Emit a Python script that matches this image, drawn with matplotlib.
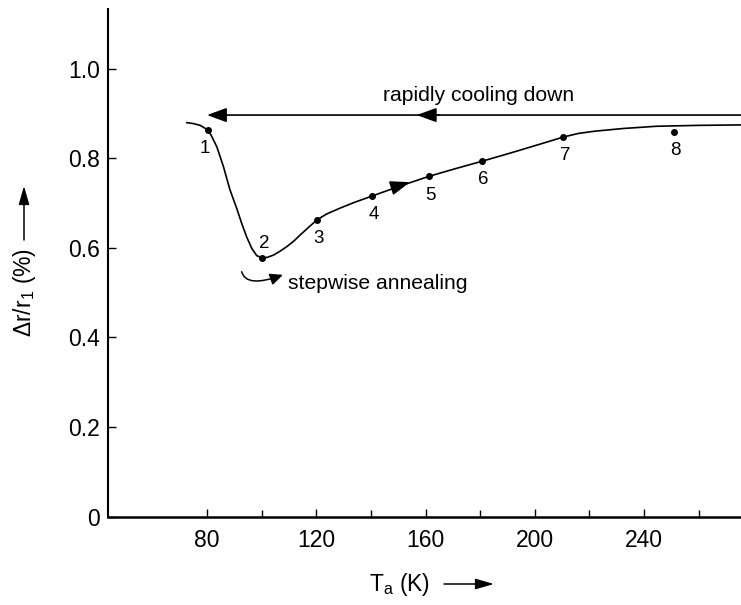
import matplotlib
matplotlib.use("Agg")
import matplotlib.pyplot as plt
from matplotlib.patches import FancyArrowPatch
from matplotlib.ticker import FixedLocator

plt.rcParams['font.family'] = ['Liberation Sans', 'DejaVu Sans']
plt.rcParams['mathtext.fontset'] = 'custom'
plt.rcParams['mathtext.rm'] = 'Liberation Sans'

# resistance change curve
curve_T = [72.6, 75.0, 77.5, 80.2, 81.5, 83.6, 86.0, 88.4, 90.9, 92.7, 94.5, 96.4,
           98.2, 100.1, 102.0, 104.3, 106.8, 109.2, 111.7, 114.1, 117.7, 120.3,
           123.8, 128.7, 134.0, 140.4, 150.0, 161.2, 170.8, 180.8, 191.0, 201.9,
           210.5, 216.0, 222.0, 232.4, 244.6, 260.0, 276.0]
curve_r = [0.880, 0.878, 0.874, 0.864, 0.852, 0.826, 0.782, 0.730, 0.688, 0.655,
           0.625, 0.599, 0.583, 0.578, 0.579, 0.584, 0.593, 0.603, 0.615, 0.629,
           0.649, 0.663, 0.676, 0.689, 0.702, 0.716, 0.737, 0.760, 0.777, 0.794,
           0.812, 0.832, 0.848, 0.856, 0.861, 0.867, 0.872, 0.874, 0.875]

# annealing steps 1..8
step_T = [80.2, 100.1, 120.3, 140.4, 161.2, 180.8, 210.5, 250.9]
step_r = [0.864, 0.578, 0.663, 0.716, 0.760, 0.794, 0.848, 0.860]
step_labels = ['1', '2', '3', '4', '5', '6', '7', '8']

x_ticks = [80, 120, 160, 200, 240]
x_minor = [100, 140, 180, 220, 260]
y_ticks = [0, 0.2, 0.4, 0.6, 0.8, 1.0]
y_tick_labels = ['0', '0.2', '0.4', '0.6', '0.8', '1.0']

cooling_r = 0.897

fig = plt.figure(figsize=(7.41, 6.05), dpi=100)
ax = fig.add_axes([108 / 741, 88.5 / 605, 1 - 108 / 741, (605 - 88.5 - 9) / 605])

ax.plot(curve_T, curve_r, color='k', lw=1.2)
ax.plot(step_T, step_r, 'o', color='k', ms=4)

# label offsets (points); label 2 sits above its point
for t, r, lab in zip(step_T, step_r, step_labels):
    dx, dy = (2, 10) if lab == '2' else (1, -13.5)
    if lab == '1':
        dx = -2
    ax.annotate(lab, (t, r), xytext=(dx, dy), textcoords='offset points',
                ha='center', va='center', fontsize=13.5)

head = '-|>,head_length=0.6,head_width=0.22'
# rapidly cooling down arrow
ax.annotate('', xy=(80, cooling_r), xytext=(290, cooling_r), annotation_clip=False,
            arrowprops=dict(arrowstyle=head, color='k', lw=1.2, mutation_scale=20,
                            shrinkA=0, shrinkB=0))
ax.annotate('', xy=(156.8, cooling_r), xytext=(165, cooling_r),
            arrowprops=dict(arrowstyle=head, color='k', lw=1.2, mutation_scale=20,
                            shrinkA=0, shrinkB=0))
ax.text(144.6, 0.929, 'rapidly cooling down', fontsize=15.2, ha='left', va='baseline')

# arrow along the annealing branch
ax.annotate('', xy=(154.3, 0.747), xytext=(148, 0.735),
            arrowprops=dict(arrowstyle=head, color='k', lw=1.2, mutation_scale=20,
                            shrinkA=0, shrinkB=0))

# stepwise annealing curved arrow
ax.annotate('', xy=(107.8, 0.540), xytext=(92.7, 0.547),
            arrowprops=dict(arrowstyle='-|>,head_length=0.7,head_width=0.32', color='k',
                            lw=1.1, mutation_scale=11, shrinkA=0, shrinkB=0,
                            connectionstyle='angle3,angleA=-75,angleB=20'))
ax.text(109.8, 0.508, 'stepwise annealing', fontsize=15.2, ha='left', va='baseline')

ax.set_xlim(43.75, 275.5)
ax.set_ylim(0, 1.134)
ax.spines['top'].set_visible(False)
ax.spines['right'].set_visible(False)
ax.spines['left'].set_linewidth(1.5)
ax.spines['bottom'].set_linewidth(1.8)

ax.xaxis.set_major_locator(FixedLocator(x_ticks))
ax.xaxis.set_minor_locator(FixedLocator(x_minor))
ax.set_yticks(y_ticks)
ax.set_yticklabels(y_tick_labels)
ax.tick_params(axis='both', which='major', direction='in', length=6, width=1.0,
               labelsize=16.5)
ax.tick_params(axis='x', which='major', pad=9)
ax.tick_params(axis='y', which='major', pad=6)
ax.tick_params(axis='x', which='minor', direction='in', length=5, width=1.0)

# axis titles with arrows, placed in figure pixels
fig.text(400 / 741, 1 - 584 / 605, r'T$_\mathregular{a}$ (K)', fontsize=16.5,
         ha='center', va='center')
fig.add_artist(FancyArrowPatch(
    (444 / 741, 1 - 584 / 605), (494 / 741, 1 - 584 / 605), transform=fig.transFigure,
    arrowstyle='-|>,head_length=0.7,head_width=0.2', mutation_scale=16, color='k', lw=1.1,
    shrinkA=0, shrinkB=0))

fig.text(25 / 741, 1 - 292 / 605, r'$\Delta$r/r$_\mathregular{1}$ (%)', fontsize=16.5,
         rotation=90, ha='center', va='center')
fig.add_artist(FancyArrowPatch(
    (24 / 741, 1 - 240 / 605), (24 / 741, 1 - 186 / 605), transform=fig.transFigure,
    arrowstyle='-|>,head_length=0.7,head_width=0.2', mutation_scale=16, color='k', lw=1.1,
    shrinkA=0, shrinkB=0))

fig.savefig('out.png', dpi=100)
